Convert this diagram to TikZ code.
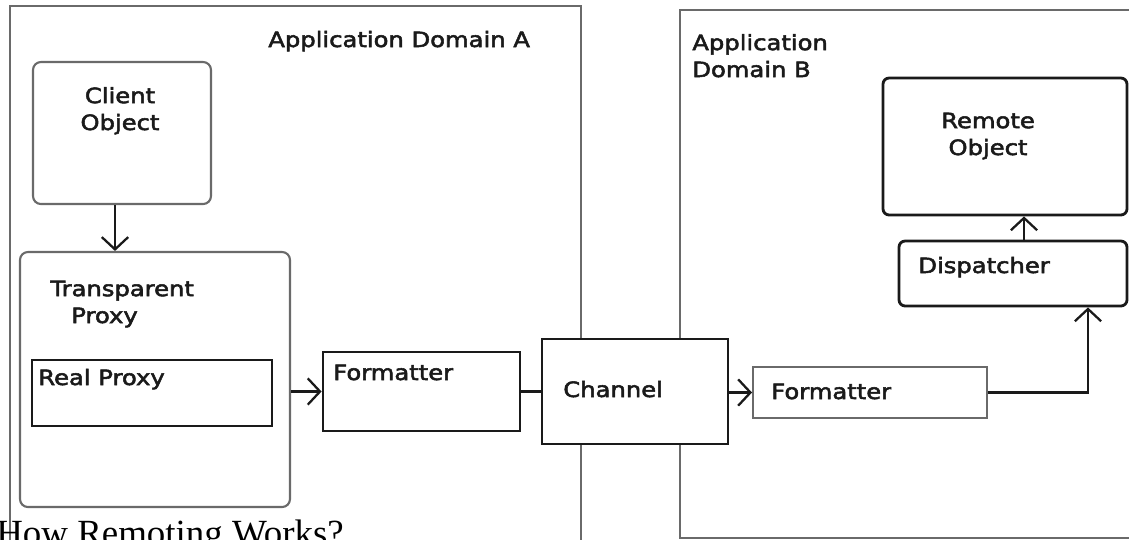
\documentclass[tikz,border=0pt]{standalone}
\usepackage{fontspec}
\setmainfont{DejaVu Sans}
\newfontfamily\boxfont[FakeStretch=1.15,FakeBold=2.5]{DejaVu Sans}
\newfontfamily\capfont{Liberation Serif}
\usetikzlibrary{arrows.meta,fit}
\definecolor{framegray}{HTML}{6A6A6A}
\definecolor{ink}{HTML}{1A1A1A}
\tikzset{
  domainbox/.style={draw=framegray, line width=1.1pt, inner sep=0pt},
  softbox/.style={draw=framegray, line width=1.2pt, rounded corners=4.5pt, inner sep=0pt},
  hardbox/.style={draw=ink, fill=white, line width=1.6pt, inner sep=0pt},
  thinbox/.style={draw=framegray, line width=1.1pt, inner sep=0pt},
  roundbox/.style={draw=ink, line width=1.6pt, rounded corners=3.5pt, inner sep=0pt},
  lab/.style={font=\boxfont\fontsize{12}{15.3}\selectfont, text=ink, inner sep=0pt},
  link/.style={draw=ink, line width=1.4pt},
  arr/.style={link, -{Straight Barb[length=7pt,width=15pt,line width=1.3pt]}}
}
\begin{document}
\begin{tikzpicture}[x=0.02cm, y=-0.02cm]
    \path[use as bounding box, clip] (0,0) rectangle (1129,539);
    % domains
    \node[domainbox, fit={(10,6) (581,560)}] (domA) {};
    \node[domainbox, fit={(680,10) (1140,538)}] (domB) {};
    \node[lab, anchor = base west] (labA) at (268,47) {Application Domain A};
    \node[lab, anchor = base west, align = left] (labB) at (692,77) {Application\\Domain B};
    % domain A
    \node[softbox, fit={(33,62) (211,204)}] (client) {};
    \node[lab, anchor = base, align = center] (clientlab) at (120,130) {Client\\Object};
    \node[softbox, fit={(20,252) (290,507)}] (proxy) {};
    \node[lab, anchor = base west, align = left] (proxylab) at (50,323) {Transparent\\\hspace*{0.42cm}Proxy};
    \node[hardbox, fit={(32,360) (272,426)}] (real) {};
    \node[lab, anchor = base west] (reallab) at (38,385) {Real Proxy};
    \node[hardbox, fit={(323,352) (520,431)}] (fmta) {};
    \node[lab, anchor = base west] (fmtalab) at (333,380) {Formatter};
    % channel
    \node[hardbox, fit={(542,339) (728,444)}] (chan) {};
    \node[lab, anchor = base west] (chanlab) at (563,397) {Channel};
    % domain B
    \node[thinbox, fit={(753,367) (987,418)}] (fmtb) {};
    \node[lab, anchor = base west] (fmtblab) at (771,399) {Formatter};
    \node[roundbox, fit={(899,241) (1127,306)}] (disp) {};
    \node[lab, anchor = base west] (displab) at (918,273) {Dispatcher};
    \node[roundbox, fit={(883,78) (1127,215)}] (remote) {};
    \node[lab, anchor = base, align = center] (remotelab) at (988,155) {Remote\\Object};
    % connectors
    \draw[arr] ([xshift=-0.14cm]client.south) -- ([xshift=-0.14cm]client.south |- proxy.north);
    \draw[arr] (proxy.east |- fmta.west) -- (fmta.west);
    \draw[link] (fmta.east) -- (fmta.east -| chan.west);
    \draw[arr] (chan.east |- fmtb.west) -- (fmtb.west);
    \draw[arr] (fmtb.east) -| ([xshift=1.5cm]disp.south);
    \draw[arr] ([xshift=0.22cm]disp.north) -- ([xshift=0.22cm]disp.north |- remote.south);
    \node[anchor = base west, inner sep=0pt, font=\capfont\fontsize{21}{25}\selectfont] (caption) at (-4,545) {How Remoting Works?};
\end{tikzpicture}
\end{document}
